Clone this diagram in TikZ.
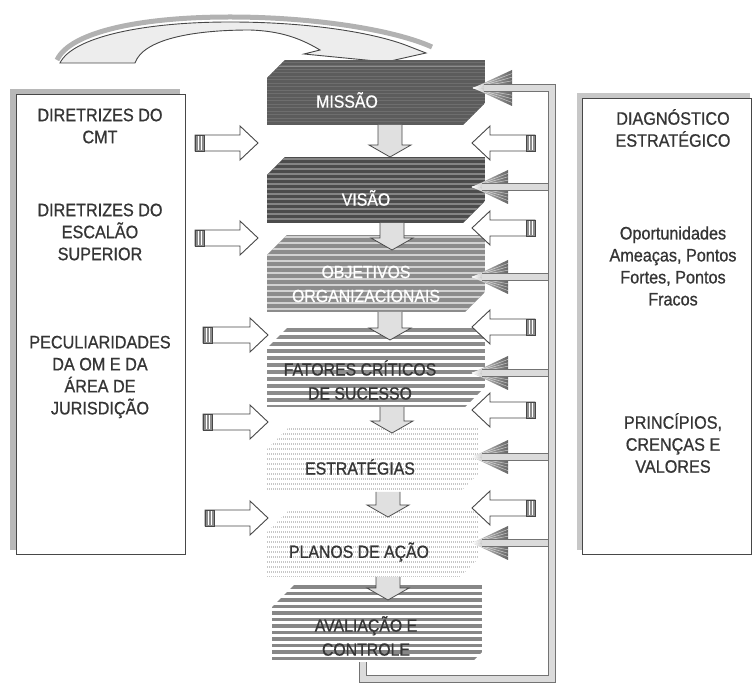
\documentclass[tikz,border=0pt]{standalone}
\usepackage{fontspec}
\setmainfont{Liberation Sans}[FakeStretch=0.9, FakeBold=0.8]
\definecolor{ink}{HTML}{353535}
\definecolor{edge}{HTML}{474747}
\tikzset{
  sidetxt/.style={align=center, text=ink, font=\fontsize{18}{22}\selectfont, inner sep=0pt},
  blktxt/.style={align=center, font=\fontsize{17.6}{24}\selectfont, inner sep=0pt},
  boxline/.style={draw=edge, line width=1pt},
  outl/.style={draw=edge, line width=0.9pt, fill=white, line join=miter},
  dnstyle/.style={draw=edge, line width=0.8pt, fill=black!12},
  fb/.style={draw=black!55, line width=0.8pt, double=black!14, double distance=6pt},
}
% block shape: left top right bottom chamferTL chamferBR fill stripes
\newcommand\drawblock[8]{%
  \begin{scope}
    \clip (#1,#2+#5) -- (#1+#5,#2) -- (#3,#2) -- (#3,#4-#6) -- (#3-#6,#4) -- (#1,#4) -- cycle;
    \fill[#7] (#1,#2) rectangle (#3,#4);
    #8
  \end{scope}}
% down arrow: x, top, tip
\newcommand\dnblkarrow[3]{%
  \draw[dnstyle] (#1-12,#2) -- (#1-12,#3-12) -- (#1-21,#3-12) -- (#1,#3) -- (#1+21,#3-12) -- (#1+12,#3-12) -- (#1+12,#2);}
% right-pointing outlined arrow: tail x, tip x, y
\newcommand\rblkarrow[3]{%
  \draw[outl] (#1,#3-8) -- (#2-18,#3-8) -- (#2-18,#3-17) -- (#2,#3) -- (#2-18,#3+17) -- (#2-18,#3+8) -- (#1,#3+8) -- cycle;
  \draw[edge, fill=black!45, line width=0.8pt] (#1,#3-8) rectangle (#1+9,#3+8);
  \draw[white, line width=0.8pt] (#1+3,#3-7) -- (#1+3,#3+7) (#1+6,#3-7) -- (#1+6,#3+7);}
% left-pointing outlined arrow: tip x, tail x, y
\newcommand\lblkarrow[3]{%
  \draw[outl] (#1,#3) -- (#1+18,#3-17) -- (#1+18,#3-8) -- (#2,#3-8) -- (#2,#3+8) -- (#1+18,#3+8) -- (#1+18,#3+17) -- cycle;
  \draw[edge, fill=black!45, line width=0.8pt] (#2-9,#3-8) rectangle (#2,#3+8);
  \draw[white, line width=0.8pt] (#2-3,#3-7) -- (#2-3,#3+7) (#2-6,#3-7) -- (#2-6,#3+7);}
% grey feedback arrow head: tip x, back x, half height, y
\newcommand\greyhead[4]{%
  \shade[left color=black!15, right color=black!60] (#1,#4) -- (#2,#4-#3) -- (#2,#4+#3) -- cycle;
  \foreach \dd in {-0.8,-0.6,...,0.81} \draw[white, line width=0.5pt, opacity=0.6] (#1,#4) -- (#2,#4+\dd*#3);}
\begin{document}
\begin{tikzpicture}[x=1pt,y=-1pt]
\useasboundingbox (0,0) rectangle (753,684);

% ---- top curved arrow
\draw[black!30, line width=5pt] (57,60) .. controls (70,32) and (140,17) .. (230,17) .. controls (310,17) and (392,29) .. (432,47);
\draw[edge, line width=0.9pt, fill=black!7] (60,63) .. controls (72,38) and (140,22) .. (230,22)
   .. controls (310,22) and (375,33) .. (408,46) -- (426,53) -- (386,62) -- (304,54) -- (320,50)
   .. controls (300,38) and (280,31) .. (250,30) .. controls (190,30) and (143,40) .. (135,63) -- cycle;

% ---- side boxes
\fill[black!28] (10,89) rectangle (180,550);
\draw[boxline, fill=white] (16,95) rectangle (185,555);
\fill[black!22] (577,93) rectangle (750,550);
\draw[boxline, fill=white] (582,99) rectangle (751,555);

% ---- central blocks
\drawblock{267}{60}{485}{125}{18}{22}{black!64}{%
  \foreach \yy in {62,65.5,...,125} \draw[black!57, line width=0.8pt] (267,\yy) -- (485,\yy);
  \draw[black!45, line width=1pt] (267,67) -- (485,67);}
\drawblock{267}{157}{485}{223}{18}{22}{black!70}{%
  \foreach \yy in {159,164,...,223} \draw[black!48, line width=1.3pt] (267,\yy) -- (485,\yy);}
\drawblock{267}{235}{485}{312}{20}{20}{black!45}{%
  \foreach \yy in {237,243,...,312} \draw[black!18, line width=1.6pt] (267,\yy) -- (485,\yy);}
\drawblock{267}{328}{485}{407}{20}{20}{white}{%
  \foreach \yy in {330,337,...,407} \draw[black!45, line width=4pt] (267,\yy) -- (485,\yy);}
\drawblock{267}{427}{478}{492}{22}{18}{white}{%
  \foreach \yy in {429,434,...,492} \draw[black!22, line width=1.8pt, dash pattern=on 1.2pt off 0.8pt] (267,\yy) -- (478,\yy);}
\drawblock{267}{510}{478}{577}{22}{18}{white}{%
  \foreach \yy in {512,517,...,577} \draw[black!22, line width=1.8pt, dash pattern=on 1.2pt off 0.8pt] (267,\yy) -- (478,\yy);}
\drawblock{272}{585}{482}{662}{22}{10}{white}{%
  \foreach \yy in {587,593.5,...,662} \draw[black!47, line width=3.6pt] (272,\yy) -- (482,\yy);}

% ---- down arrows between blocks
\dnblkarrow{390}{125}{157}
\dnblkarrow{392}{223}{250}
\dnblkarrow{390}{312}{340}
\dnblkarrow{392}{407}{433}
\dnblkarrow{388}{492}{517}
\dnblkarrow{388}{577}{600}

% ---- feedback loop with grey arrows
\greyhead{473}{512}{18}{88}
\foreach \yy in {187,277,373,457,543} {\greyhead{472}{508}{17}{\yy}}
\foreach \yy in {187,277,373,457,543} {\draw[fb] (482,\yy) -- (552,\yy);}
\draw[fb] (363,662) |- (552,679) |- (484,88);

% ---- outlined arrows
\rblkarrow{195}{258}{143}
\rblkarrow{195}{258}{238}
\rblkarrow{203}{268}{335}
\rblkarrow{203}{268}{422}
\rblkarrow{205}{268}{518}
\lblkarrow{472}{535}{143}
\lblkarrow{472}{535}{228}
\lblkarrow{472}{535}{327}
\lblkarrow{472}{535}{410}
\lblkarrow{472}{535}{508}

% ---- block texts
\node[blktxt, text=white] (mis) at (347,100) {MISSÃO};
\node[blktxt, text=white] (vis) at (366,198) {VISÃO};
\node[blktxt, text=white] (obj) at (366,284) {OBJETIVOS\\ORGANIZACIONAIS};
\node[blktxt, text=ink] (fat) at (360,380) {FATORES CRÍTICOS\\DE SUCESSO};
\node[blktxt, text=ink] (est) at (360,467) {ESTRATÉGIAS};
\node[blktxt, text=ink] (pla) at (359,552) {PLANOS DE AÇÃO};
\node[blktxt, text=ink] (ava) at (366,636) {AVALIAÇÃO E\\CONTROLE};

% ---- side texts
\node[sidetxt] (l1) at (100,126) {DIRETRIZES DO\\CMT};
\node[sidetxt] (l2) at (100,232) {DIRETRIZES DO\\ESCALÃO\\SUPERIOR};
\node[sidetxt] (l3) at (100,377) {PECULIARIDADES\\DA OM E DA\\ÁREA DE\\JURISDIÇÃO};
\node[sidetxt] (r1) at (673,128) {DIAGNÓSTICO\\ESTRATÉGICO};
\node[sidetxt] (r2) at (673,266) {Oportunidades\\Ameaças, Pontos\\Fortes, Pontos\\Fracos};
\node[sidetxt] (r3) at (673,443) {PRINCÍPIOS,\\CRENÇAS E\\VALORES};
\end{tikzpicture}
\end{document}
